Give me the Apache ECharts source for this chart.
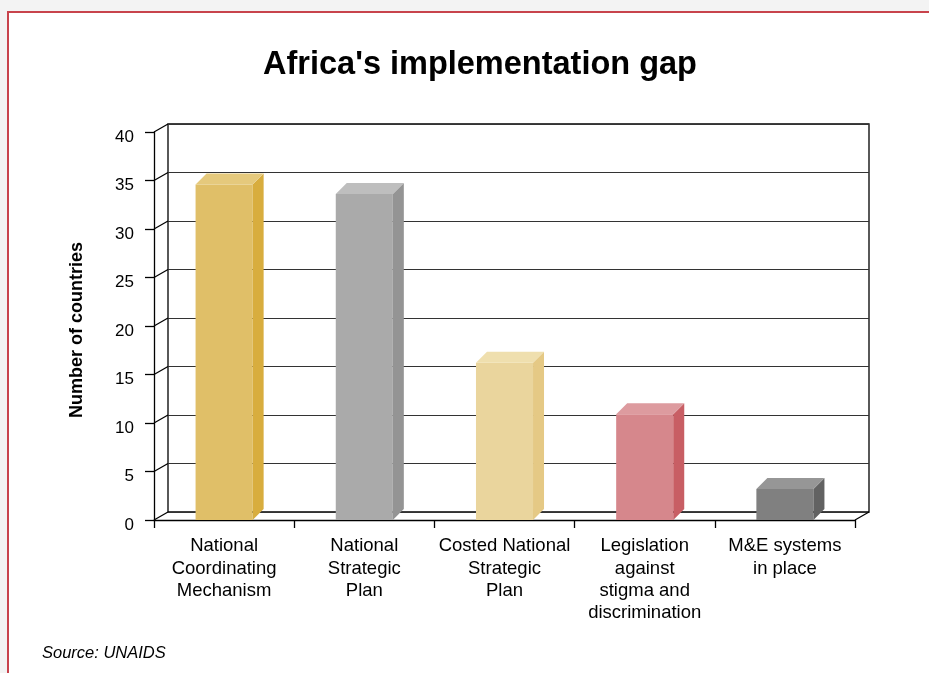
<!DOCTYPE html>
<html>
<head>
<meta charset="utf-8">
<script src="https://cdn.jsdelivr.net/npm/echarts@6/dist/echarts.min.js"></script>
<style>
html,body{margin:0;padding:0;background:#fff;}
#main{width:929px;height:673px;}
</style>
</head>
<body>
<div id="main"></div>
<script>
// ---- data ----
const categories = [
  'National\nCoordinating\nMechanism',
  'National\nStrategic\nPlan',
  'Costed National\nStrategic\nPlan',
  'Legislation\nagainst\nstigma and\ndiscrimination',
  'M&E systems\nin place'
];
const values = [34.6, 33.6, 16.2, 10.9, 3.2];
const yTicks = [0, 5, 10, 15, 20, 25, 30, 35, 40];
const titleText = "Africa's implementation gap";
const yAxisTitle = 'Number of countries';
const sourceText = 'Source: UNAIDS';

// ---- styles ----
const barColors = [
  { front: '#e0bf68', side: '#d8ad3e', top: '#e5c97c' },
  { front: '#aaaaaa', side: '#949494', top: '#bebebe' },
  { front: '#ead59d', side: '#e5c985', top: '#efdfae' },
  { front: '#d6878c', side: '#c85e64', top: '#dd9b9f' },
  { front: '#808080', side: '#626262', top: '#969696' }
];
const WALL = [14, -8];   // depth offset of back wall
const BAR = [11, -11];   // depth offset of bars
const FONT = 'Liberation Sans, Arial, sans-serif';

const chart = echarts.init(document.getElementById('main'), null, { renderer: 'canvas' });

const yMin = yTicks[0], yMax = yTicks[yTicks.length - 1], yStep = yTicks[1] - yTicks[0];

const option = {
  animation: false,
  backgroundColor: '#ffffff',
  title: {
    text: titleText,
    left: 475, top: 44, textAlign: 'center',
    textStyle: { fontFamily: FONT, fontSize: 32.5, fontWeight: 900, color: '#000' }
  },
  grid: [
    { left: 154, right: 74, top: 132, bottom: 153 },
    { left: 168, right: 60, top: 124, bottom: 161, show: true, borderColor: '#000', borderWidth: 1.3, backgroundColor: 'transparent' }
  ],
  xAxis: [
    {
      type: 'category', gridIndex: 0, data: categories, boundaryGap: true,
      axisLine: { show: true, lineStyle: { color: '#000', width: 1.3 } },
      axisTick: { show: true, length: 8, inside: false, alignWithLabel: false, lineStyle: { color: '#000', width: 1.3 } },
      axisLabel: { fontFamily: FONT, fontSize: 18.5, color: '#000', lineHeight: 22.4, margin: 15, interval: 0, align: 'center' }
    },
    {
      type: 'category', gridIndex: 1, data: categories,
      axisLine: { show: false }, axisTick: { show: false }, axisLabel: { show: false }, splitLine: { show: false }
    }
  ],
  yAxis: [
    {
      type: 'value', gridIndex: 0, min: yMin, max: yMax, interval: yStep,
      name: yAxisTitle, nameLocation: 'middle', nameRotate: 90, nameGap: 68,
      nameTextStyle: { fontFamily: FONT, fontSize: 18, fontWeight: 'bold', color: '#000', padding: [0, 8, 0, 0] },
      axisLine: { show: true, lineStyle: { color: '#000', width: 1.3 } },
      axisTick: { show: true, length: 9, inside: false, lineStyle: { color: '#000', width: 1.3 } },
      axisLabel: { fontFamily: FONT, fontSize: 17, color: '#000', margin: 20, verticalAlign: 'top', lineHeight: 10 },
      splitLine: { show: false }
    },
    {
      type: 'value', gridIndex: 1, min: yMin, max: yMax, interval: yStep,
      axisLine: { show: false }, axisTick: { show: false }, axisLabel: { show: false },
      splitLine: { show: true, lineStyle: { color: '#333', width: 1.2 } }
    }
  ],
  graphic: [
    { type: 'rect', shape: { x: 0, y: 0, width: 929, height: 11 }, style: { fill: '#f3f3f3' }, z: -10 },
    { type: 'rect', shape: { x: 0, y: 0, width: 7, height: 673 }, style: { fill: '#f3f3f3' }, z: -10 },
    { type: 'rect', shape: { x: 7, y: 11, width: 922, height: 2 }, style: { fill: '#c8434c' }, z: -9 },
    { type: 'rect', shape: { x: 7, y: 11, width: 2, height: 662 }, style: { fill: '#c8434c' }, z: -9 },
    { type: 'text', left: 42, top: 645, style: { text: sourceText, font: 'italic 16.5px ' + FONT, fill: '#000' } }
  ],
  series: [
    {
      // left wall / floor edges connecting front axes to back wall
      type: 'custom', xAxisIndex: 0, yAxisIndex: 0, z: 1,
      data: yTicks.map(v => [0, v]),
      renderItem: function (params, api) {
        const cs = params.coordSys;
        const y = api.coord([0, api.value(1)])[1];
        const children = [{
          type: 'line',
          shape: { x1: cs.x, y1: y, x2: cs.x + WALL[0], y2: y + WALL[1] },
          style: { stroke: '#000', lineWidth: 1.2 }
        }];
        if (api.value(1) === yMin) {
          children.push({
            type: 'line',
            shape: { x1: cs.x + cs.width, y1: y, x2: cs.x + cs.width + WALL[0], y2: y + WALL[1] },
            style: { stroke: '#000', lineWidth: 1.2 }
          });
        }
        return { type: 'group', children: children };
      }
    },
    {
      // 3D-looking bars
      type: 'custom', xAxisIndex: 0, yAxisIndex: 0, z: 5,
      data: values.map((v, i) => [i, v]),
      renderItem: function (params, api) {
        const i = api.value(0);
        const top = api.coord([i, api.value(1)]);
        const base = api.coord([i, 0]);
        const band = api.size([1, 0])[0];
        const w = band * 0.407;
        const x0 = top[0] - w / 2, x1 = top[0] + w / 2;
        const yt = top[1], yb = base[1];
        const c = barColors[i];
        return {
          type: 'group',
          children: [
            { type: 'rect', shape: { x: x0, y: yt, width: w, height: yb - yt }, style: { fill: c.front } },
            { type: 'polygon', shape: { points: [[x1, yt], [x1 + BAR[0], yt + BAR[1]], [x1 + BAR[0], yb + BAR[1]], [x1, yb]] }, style: { fill: c.side } },
            { type: 'polygon', shape: { points: [[x0, yt], [x0 + BAR[0], yt + BAR[1]], [x1 + BAR[0], yt + BAR[1]], [x1, yt]] }, style: { fill: c.top } }
          ]
        };
      }
    }
  ]
};
chart.setOption(option);
</script>
</body>
</html>
